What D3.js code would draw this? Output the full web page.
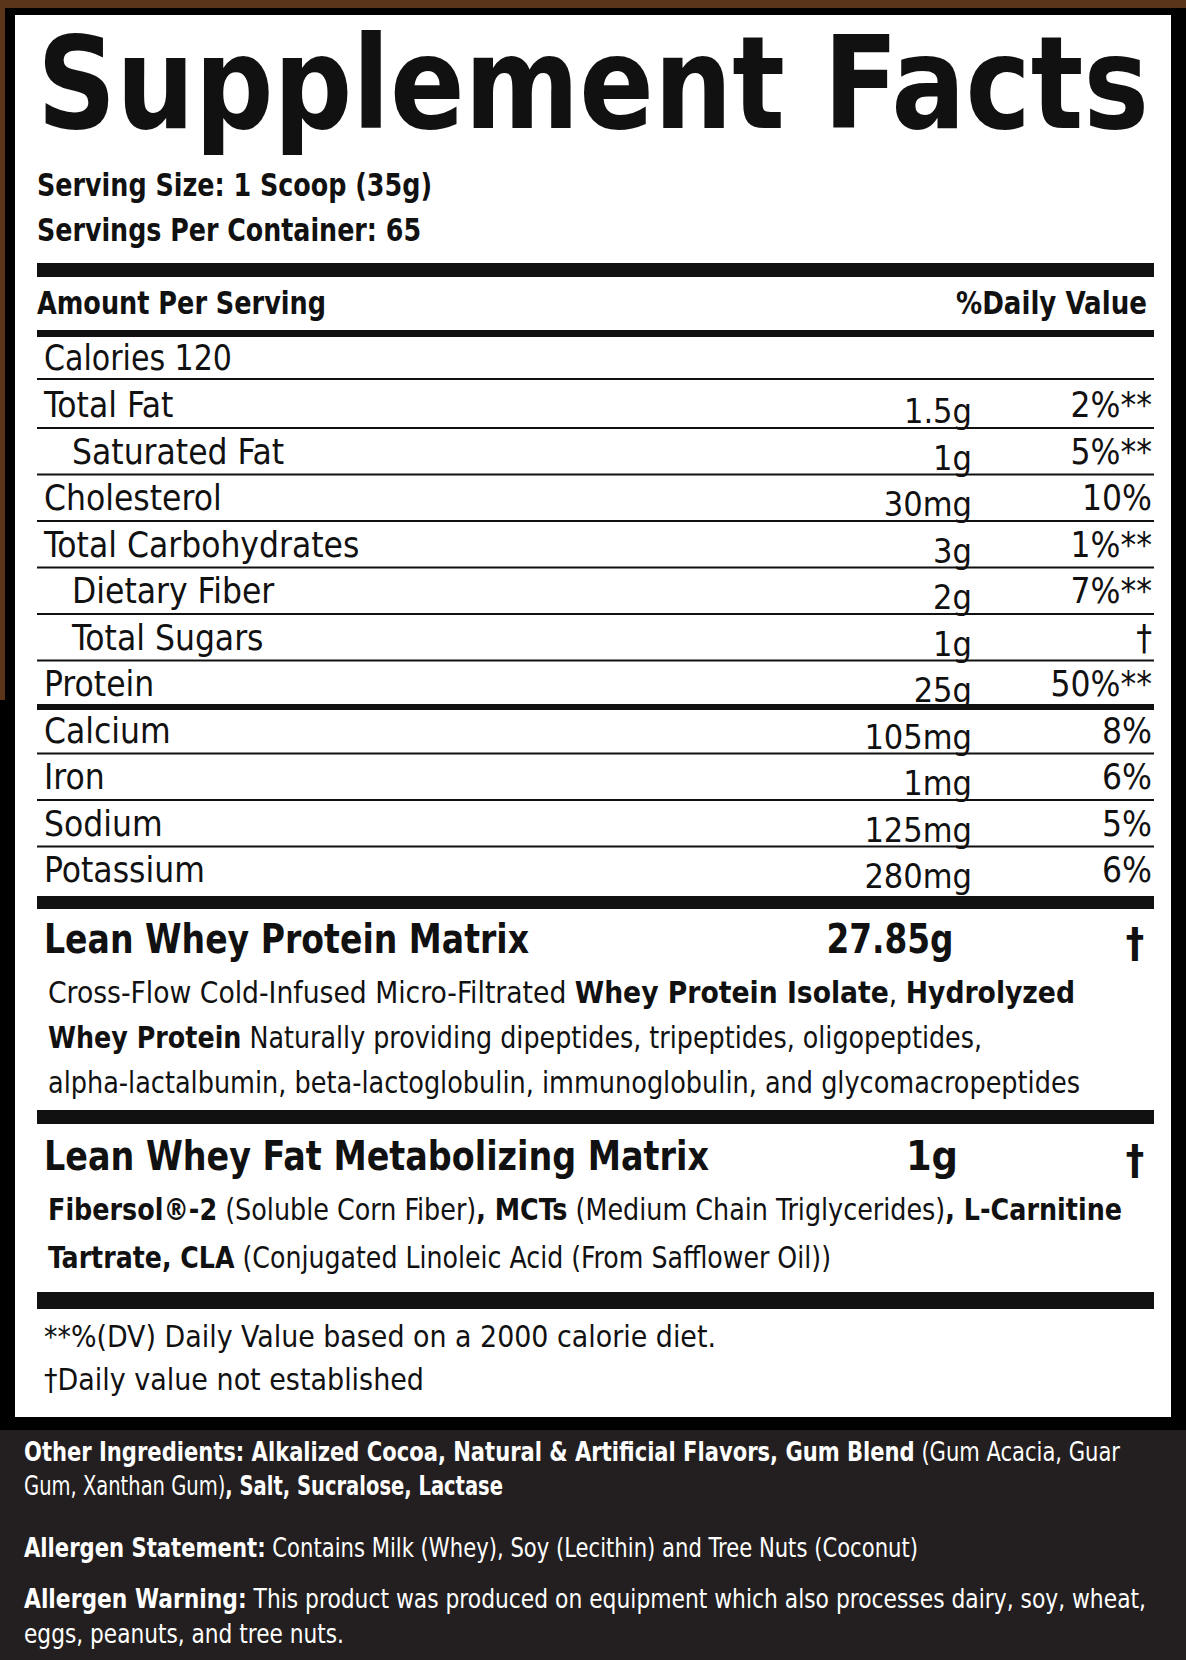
<!DOCTYPE html>
<html><head><meta charset="utf-8">
<script src="https://cdn.jsdelivr.net/npm/d3@7"></script>
<style>body{margin:0;background:#000}text{font-family:"Liberation Sans Narrow","DejaVu Sans",sans-serif;font-stretch:condensed}</style>
</head><body><div id="chart-area"></div>
<script>
let width = 1186, height = 1660;

// nutrient rows
let names = ["Total Fat","Saturated Fat","Cholesterol","Total Carbohydrates","Dietary Fiber","Total Sugars","Protein","Calcium","Iron","Sodium","Potassium"];
let amounts = ["1.5g","1g","30mg","3g","2g","1g","25g","105mg","1mg","125mg","280mg"];
let dailyValues = ["2%**","5%**","10%","1%**","7%**","†","50%**","8%","6%","5%","6%"];
let indented = [false,true,false,false,true,true,false,false,false,false,false];
let thickAfter = ["Protein"];

let blends = ["Lean Whey Protein Matrix","Lean Whey Fat Metabolizing Matrix"];
let blendAmounts = ["27.85g","1g"];

let svg = d3.select("#chart-area").append("svg")
    .attr("width", width).attr("height", height);

svg.append("rect").attr("width", width).attr("height", height).attr("fill", "#000");
svg.append("rect").attr("width", width).attr("height", 8).attr("fill", "#5a3418");
svg.append("rect").attr("x", 0).attr("y", 0).attr("width", 5).attr("height", 700).attr("fill", "#5a3418");
svg.append("rect").attr("x", 15).attr("y", 15).attr("width", 1156).attr("height", 1402).attr("fill", "#fff");
svg.append("rect").attr("x", 0).attr("y", 1430).attr("width", width).attr("height", 230).attr("fill", "#231f20");

function rich(x, y, size, segs, len, fill, anchor) {
    let t = svg.append("text").attr("x", x).attr("y", y)
        .attr("font-size", size).attr("fill", fill || "#111")
        .attr("text-anchor", anchor || "start");
    if (len) t.attr("textLength", len).attr("lengthAdjust", "spacingAndGlyphs");
    segs.forEach(s => {
        t.append("tspan").attr("font-weight", s[1] ? "bold" : "normal").text(s[0]);
    });
    return t;
}
function bar(y, h) {
    svg.append("rect").attr("x", 37).attr("y", y).attr("width", 1117).attr("height", h).attr("fill", "#111");
}

rich(37, 128, 128, [["Supplement Facts", true]], 1112);
rich(37, 196, 32, [["Serving Size: 1 Scoop (35g)", true]], 395);
rich(37, 241, 32, [["Servings Per Container: 65", true]], 384);
bar(263, 14);
rich(37, 314, 32, [["Amount Per Serving", true]], 289);
rich(1147, 314, 32, [["%Daily Value", true]], 191, null, "end");
bar(330, 7);
rich(44, 370, 35, [["Calories 120", false]], 188);
bar(378, 2);

let y = d3.scalePoint().domain(names).range([417, 882]);
let rows = svg.selectAll("g.row").data(names).enter().append("g").attr("class", "row");
rows.append("text").attr("x", (d, i) => indented[i] ? 72 : 44).attr("y", d => y(d))
    .attr("font-size", 35).attr("fill", "#111").text(d => d);
rows.append("text").attr("x", 972).attr("y", d => y(d) + 6).attr("text-anchor", "end")
    .attr("font-size", 34).attr("fill", "#111").text((d, i) => amounts[i]);
rows.append("text").attr("x", 1152).attr("y", d => y(d)).attr("text-anchor", "end")
    .attr("font-size", 35).attr("fill", "#111").text((d, i) => dailyValues[i]);
rows.filter((d, i) => i < names.length - 1).append("rect")
    .attr("x", 37).attr("width", 1117)
    .attr("y", d => y(d) + 8 + (thickAfter.includes(d) ? 0 : 2))
    .attr("height", d => thickAfter.includes(d) ? 6 : 2).attr("fill", "#111");
bar(896, 13);

// blends
let by = [953, 1170];
let titleLen = [485, 665];
blends.forEach((b, i) => {
    rich(44, by[i], 41, [[b, true]], titleLen[i]);
    rich(i ? 932 : 890, by[i], 41, [[blendAmounts[i], true]], i ? null : 127, null, "middle");
    rich(1135, by[i] + 4, 41, [["†", true]], null, null, "middle");
});
rich(48, 1003, 31, [["Cross-Flow Cold-Infused Micro-Filtrated ", false], ["Whey Protein Isolate", true], [", ", false], ["Hydrolyzed", true]], 1027);
rich(48, 1048, 31, [["Whey Protein", true], [" Naturally providing dipeptides, tripeptides, oligopeptides,", false]], 934);
rich(48, 1093, 31, [["alpha-lactalbumin, beta-lactoglobulin, immunoglobulin, and glycomacropeptides", false]], 1032);
bar(1110, 14);
rich(48, 1220, 31, [["Fibersol®-2", true], [" (Soluble Corn Fiber)", false], [", MCTs", true], [" (Medium Chain Triglycerides)", false], [", L-Carnitine", true]], 1074);
rich(48, 1268, 31, [["Tartrate, CLA", true], [" (Conjugated Linoleic Acid (From Safflower Oil))", false]], 783);
bar(1292, 17);
rich(44, 1347, 31, [["**%(DV) Daily Value based on a 2000 calorie diet.", false]], 672);
rich(44, 1390, 31, [["†Daily value not established", false]], 380);

// footer
let w = "#fff";
rich(24, 1461, 27, [["Other Ingredients: Alkalized Cocoa, Natural & Artificial Flavors, Gum Blend", true], [" (Gum Acacia, Guar", false]], 1096, w);
rich(24, 1495, 27, [["Gum, Xanthan Gum)", false], [", Salt, Sucralose, Lactase", true]], 479, w);
rich(24, 1557, 27, [["Allergen Statement:", true], [" Contains Milk (Whey), Soy (Lecithin) and Tree Nuts (Coconut)", false]], 894, w);
rich(24, 1608, 27, [["Allergen Warning:", true], [" This product was produced on equipment which also processes dairy, soy, wheat,", false]], 1122, w);
rich(24, 1643, 27, [["eggs, peanuts, and tree nuts.", false]], 320, w);
</script></body></html>
